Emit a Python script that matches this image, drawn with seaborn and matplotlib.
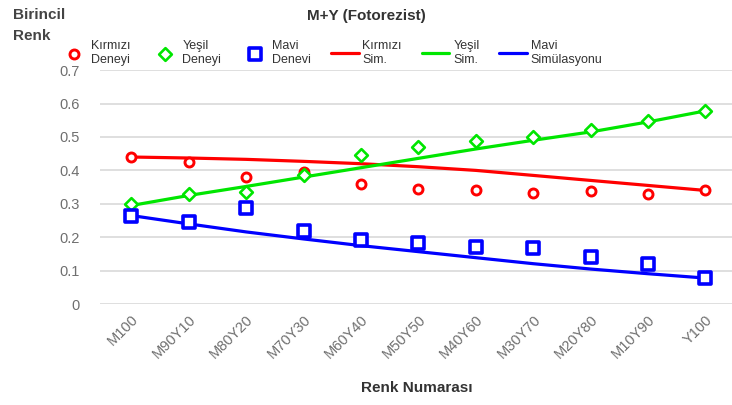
import matplotlib
matplotlib.use("Agg")
import matplotlib.pyplot as plt
import seaborn as sns
import numpy as np
import pandas as pd

categories = ["M100", "M90Y10", "M80Y20", "M70Y30", "M60Y40", "M50Y50",
              "M40Y60", "M30Y70", "M20Y80", "M10Y90", "Y100"]
red_exp = [0.44, 0.425, 0.38, 0.395, 0.36, 0.345, 0.34, 0.332, 0.337, 0.33, 0.34]
green_exp = [0.30, 0.33, 0.335, 0.385, 0.445, 0.47, 0.488, 0.50, 0.52, 0.548, 0.578]
blue_exp = [0.265, 0.245, 0.287, 0.218, 0.193, 0.182, 0.172, 0.167, 0.142, 0.121, 0.079]
red_sim = [0.44, 0.437, 0.433, 0.427, 0.420, 0.411, 0.400, 0.385, 0.370, 0.355, 0.34]
green_sim = [0.295, 0.325, 0.352, 0.38, 0.408, 0.436, 0.464, 0.49, 0.515, 0.545, 0.578]
blue_sim = [0.265, 0.24, 0.216, 0.195, 0.175, 0.157, 0.139, 0.121, 0.105, 0.091, 0.078]
yticks = [0, 0.1, 0.2, 0.3, 0.4, 0.5, 0.6, 0.7]
ytick_labels = ["0", "0.1", "0.2", "0.3", "0.4", "0.5", "0.6", "0.7"]

sns.set_style("white")
plt.rcParams['font.family'] = ['Liberation Sans', 'DejaVu Sans']

x = np.arange(len(categories))
df = pd.DataFrame({"x": x, "red_exp": red_exp, "green_exp": green_exp, "blue_exp": blue_exp,
                   "red_sim": red_sim, "green_sim": green_sim, "blue_sim": blue_sim})

fig = plt.figure(figsize=(7.32, 4.05), dpi=100)
ax = fig.add_axes([0.137, 0.249, 0.866, 0.578])

RED, GREEN, BLUE = "#ff0000", "#00e600", "#0000ff"

sns.lineplot(data=df, x="x", y="red_sim", ax=ax, color=RED, lw=2.3, label="Kırmızı\nSim.", zorder=2)
sns.lineplot(data=df, x="x", y="green_sim", ax=ax, color=GREEN, lw=2.3, label="Yeşil\nSim.", zorder=2)
sns.lineplot(data=df, x="x", y="blue_sim", ax=ax, color=BLUE, lw=2.3, label="Mavi\nSimülasyonu", zorder=2)
sns.scatterplot(data=df, x="x", y="red_exp", ax=ax, marker="o", s=42, facecolor="white",
                edgecolor=RED, linewidth=2.1, label="Kırmızı\nDeneyi", zorder=3)
sns.scatterplot(data=df, x="x", y="green_exp", ax=ax, marker="D", s=42, facecolor="white",
                edgecolor=GREEN, linewidth=1.9, label="Yeşil\nDeneyi", zorder=3)
sns.scatterplot(data=df, x="x", y="blue_exp", ax=ax, marker="s", s=65, facecolor="white",
                edgecolor=BLUE, linewidth=2.6, label="Mavi\nDenevi", zorder=3)

ax.set_xlim(-0.54, 10.5)
ax.set_ylim(0, 0.7)
ax.set_yticks(yticks)
ax.set_yticklabels(ytick_labels)
ax.set_xticks(x)
ax.set_xticklabels(categories, rotation=45, ha="right", rotation_mode="anchor")
ax.tick_params(axis="both", colors="#7f7f7f", labelsize=10.5, length=0)
ax.tick_params(axis="x", pad=6)
ax.tick_params(axis="y", pad=15)
for lab in ax.get_xticklabels() + ax.get_yticklabels():
    lab.set_color("#6f6f6f")
ax.grid(axis="y", color="#d9d9d9", lw=1.2)
ax.set_axisbelow(True)
for sp in ax.spines.values():
    sp.set_visible(False)
ax.set_xlabel("Renk Numarası", fontsize=11, fontweight="bold", color="#333333", labelpad=14)
ax.set_ylabel("")

handles, labels = ax.get_legend_handles_labels()
order = [3, 4, 5, 0, 1, 2]
leg = ax.legend([handles[i] for i in order], [labels[i] for i in order], ncol=6,
                loc="lower left", bbox_to_anchor=(-0.075, 0.985), frameon=False,
                fontsize=9, handlelength=2.2, handletextpad=0.3, columnspacing=1.6,
                borderaxespad=0.2)
for t in leg.get_texts():
    t.set_color("#333333")

fig.text(0.5, 0.96, "M+Y (Fotorezist)", ha="center", va="center", fontsize=11,
         fontweight="bold", color="#333333")
fig.text(0.018, 0.98, "Birincil\nRenk", ha="left", va="top", fontsize=11,
         fontweight="bold", color="#444444", linespacing=1.65)

fig.savefig("out.png", dpi=100)
